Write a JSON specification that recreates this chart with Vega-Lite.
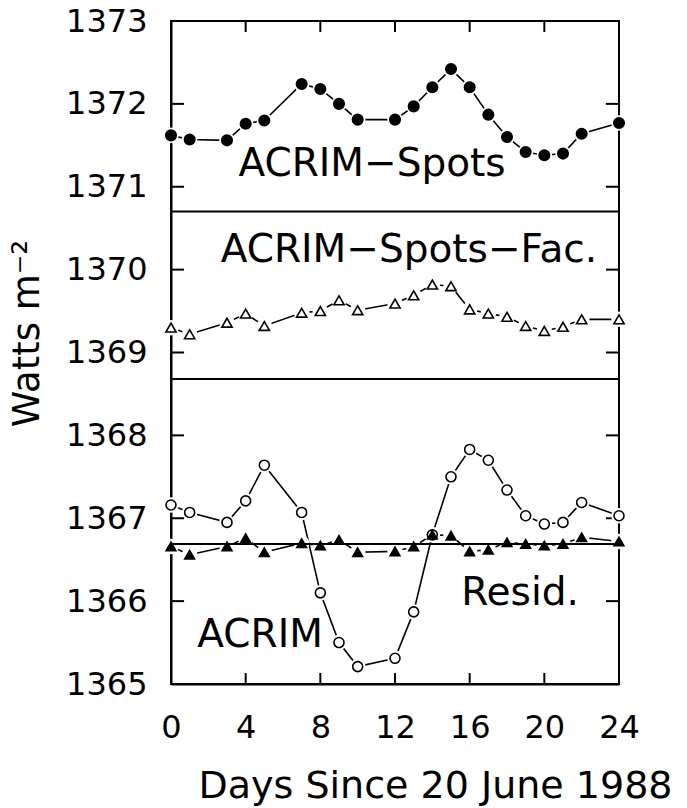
{
  "$schema": "https://vega.github.io/schema/vega-lite/v6.json",
  "autosize": "none",
  "width": 448,
  "height": 663,
  "padding": {"left": 171, "top": 21, "right": 68, "bottom": 124},
  "background": "white",
  "config": {
    "view": {"stroke": "black", "strokeWidth": 2},
    "font": "DejaVu Sans",
    "axis": {
      "grid": false,
      "domainColor": "black",
      "domainWidth": 2,
      "tickColor": "black",
      "tickWidth": 2,
      "labelColor": "black",
      "labelFont": "DejaVu Sans",
      "labelFontSize": 32,
      "titleColor": "black",
      "titleFont": "DejaVu Sans",
      "titleFontWeight": "normal"
    }
  },
  "datasets": {
    "pts": [
      {"day": 0, "value": 1371.62, "series": "spots"},
      {"day": 1, "value": 1371.57, "series": "spots"},
      {"day": 3, "value": 1371.56, "series": "spots"},
      {"day": 4, "value": 1371.76, "series": "spots"},
      {"day": 5, "value": 1371.80, "series": "spots"},
      {"day": 7, "value": 1372.24, "series": "spots"},
      {"day": 8, "value": 1372.18, "series": "spots"},
      {"day": 9, "value": 1372.00, "series": "spots"},
      {"day": 10, "value": 1371.81, "series": "spots"},
      {"day": 12, "value": 1371.81, "series": "spots"},
      {"day": 13, "value": 1371.97, "series": "spots"},
      {"day": 14, "value": 1372.20, "series": "spots"},
      {"day": 15, "value": 1372.42, "series": "spots"},
      {"day": 16, "value": 1372.20, "series": "spots"},
      {"day": 17, "value": 1371.87, "series": "spots"},
      {"day": 18, "value": 1371.60, "series": "spots"},
      {"day": 19, "value": 1371.42, "series": "spots"},
      {"day": 20, "value": 1371.38, "series": "spots"},
      {"day": 21, "value": 1371.40, "series": "spots"},
      {"day": 22, "value": 1371.64, "series": "spots"},
      {"day": 24, "value": 1371.77, "series": "spots"},
      {"day": 0, "value": 1369.30, "series": "fac"},
      {"day": 1, "value": 1369.22, "series": "fac"},
      {"day": 3, "value": 1369.36, "series": "fac"},
      {"day": 4, "value": 1369.47, "series": "fac"},
      {"day": 5, "value": 1369.32, "series": "fac"},
      {"day": 7, "value": 1369.48, "series": "fac"},
      {"day": 8, "value": 1369.50, "series": "fac"},
      {"day": 9, "value": 1369.63, "series": "fac"},
      {"day": 10, "value": 1369.51, "series": "fac"},
      {"day": 12, "value": 1369.59, "series": "fac"},
      {"day": 13, "value": 1369.69, "series": "fac"},
      {"day": 14, "value": 1369.82, "series": "fac"},
      {"day": 15, "value": 1369.80, "series": "fac"},
      {"day": 16, "value": 1369.52, "series": "fac"},
      {"day": 17, "value": 1369.47, "series": "fac"},
      {"day": 18, "value": 1369.43, "series": "fac"},
      {"day": 19, "value": 1369.32, "series": "fac"},
      {"day": 20, "value": 1369.26, "series": "fac"},
      {"day": 21, "value": 1369.31, "series": "fac"},
      {"day": 22, "value": 1369.40, "series": "fac"},
      {"day": 24, "value": 1369.40, "series": "fac"},
      {"day": 0, "value": 1367.16, "series": "acrim"},
      {"day": 1, "value": 1367.07, "series": "acrim"},
      {"day": 3, "value": 1366.95, "series": "acrim"},
      {"day": 4, "value": 1367.21, "series": "acrim"},
      {"day": 5, "value": 1367.64, "series": "acrim"},
      {"day": 7, "value": 1367.07, "series": "acrim"},
      {"day": 8, "value": 1366.10, "series": "acrim"},
      {"day": 9, "value": 1365.50, "series": "acrim"},
      {"day": 10, "value": 1365.21, "series": "acrim"},
      {"day": 12, "value": 1365.31, "series": "acrim"},
      {"day": 13, "value": 1365.87, "series": "acrim"},
      {"day": 14, "value": 1366.80, "series": "acrim"},
      {"day": 15, "value": 1367.50, "series": "acrim"},
      {"day": 16, "value": 1367.83, "series": "acrim"},
      {"day": 17, "value": 1367.70, "series": "acrim"},
      {"day": 18, "value": 1367.34, "series": "acrim"},
      {"day": 19, "value": 1367.03, "series": "acrim"},
      {"day": 20, "value": 1366.93, "series": "acrim"},
      {"day": 21, "value": 1366.95, "series": "acrim"},
      {"day": 22, "value": 1367.19, "series": "acrim"},
      {"day": 24, "value": 1367.03, "series": "acrim"},
      {"day": 0, "value": 1366.66, "series": "resid"},
      {"day": 1, "value": 1366.56, "series": "resid"},
      {"day": 3, "value": 1366.66, "series": "resid"},
      {"day": 4, "value": 1366.76, "series": "resid"},
      {"day": 5, "value": 1366.59, "series": "resid"},
      {"day": 7, "value": 1366.70, "series": "resid"},
      {"day": 8, "value": 1366.67, "series": "resid"},
      {"day": 9, "value": 1366.74, "series": "resid"},
      {"day": 10, "value": 1366.59, "series": "resid"},
      {"day": 12, "value": 1366.60, "series": "resid"},
      {"day": 13, "value": 1366.66, "series": "resid"},
      {"day": 14, "value": 1366.80, "series": "resid"},
      {"day": 15, "value": 1366.79, "series": "resid"},
      {"day": 16, "value": 1366.60, "series": "resid"},
      {"day": 17, "value": 1366.62, "series": "resid"},
      {"day": 18, "value": 1366.71, "series": "resid"},
      {"day": 19, "value": 1366.69, "series": "resid"},
      {"day": 20, "value": 1366.67, "series": "resid"},
      {"day": 21, "value": 1366.69, "series": "resid"},
      {"day": 22, "value": 1366.77, "series": "resid"},
      {"day": 24, "value": 1366.72, "series": "resid"}
    ],
    "rules": [
      {"value": 1370.70},
      {"value": 1368.68},
      {"value": 1366.69}
    ],
    "yticks": [
      {"v": 1366}, {"v": 1367}, {"v": 1368}, {"v": 1369}, {"v": 1370}, {"v": 1371}, {"v": 1372}
    ],
    "xticks": [
      {"d": 4}, {"d": 8}, {"d": 12}, {"d": 16}, {"d": 20}
    ],
    "labels": [
      {"day": 10.77, "value": 1371.13, "text": "ACRIM−Spots"},
      {"day": 12.75, "value": 1370.09, "text": "ACRIM−Spots−Fac."},
      {"day": 18.7, "value": 1365.95, "text": "Resid."},
      {"day": 4.77, "value": 1365.45, "text": "ACRIM"}
    ]
  },
  "resolve": {"axis": {"x": "independent", "y": "independent"}},
  "layer": [
    {
      "data": {"name": "pts"},
      "mark": {"type": "line", "color": "black", "strokeWidth": 1.6},
      "encoding": {
        "x": {
          "field": "day", "type": "quantitative",
          "scale": {"domain": [0, 24], "nice": false, "zero": false},
          "axis": {
            "orient": "bottom", "values": [0, 4, 8, 12, 16, 20, 24],
            "ticks": false, "labelPadding": 28, "labelFlush": false,
            "title": "Days Since 20 June 1988", "titleFontSize": 38,
            "titleX": 264, "titleY": 113, "titleAlign": "center", "titleBaseline": "alphabetic"
          }
        },
        "y": {
          "field": "value", "type": "quantitative",
          "scale": {"domain": [1365, 1373], "nice": false, "zero": false},
          "axis": {
            "orient": "left", "values": [1365, 1366, 1367, 1368, 1369, 1370, 1371, 1372, 1373],
            "format": "d", "ticks": false, "labelPadding": 24, "labelFlush": false,
            "title": "Watts m⁻²", "titleFontSize": 37,
            "titleX": -133, "titleY": 312, "titleAngle": -90, "titleAlign": "center", "titleBaseline": "alphabetic"
          }
        },
        "detail": {"field": "series"}
      }
    },
    {
      "data": {"name": "yticks"},
      "mark": {"type": "rule", "color": "black", "strokeWidth": 2},
      "encoding": {
        "y": {"field": "v", "type": "quantitative", "axis": null},
        "x": {"datum": 0, "type": "quantitative", "axis": null},
        "x2": {"datum": 0.7}
      }
    },
    {
      "data": {"name": "yticks"},
      "mark": {"type": "rule", "color": "black", "strokeWidth": 2},
      "encoding": {
        "y": {"field": "v", "type": "quantitative", "axis": null},
        "x": {"datum": 23.3, "type": "quantitative", "axis": null},
        "x2": {"datum": 24}
      }
    },
    {
      "data": {"name": "xticks"},
      "mark": {"type": "rule", "color": "black", "strokeWidth": 2},
      "encoding": {
        "x": {"field": "d", "type": "quantitative", "axis": null},
        "y": {"datum": 1373, "type": "quantitative", "axis": null},
        "y2": {"datum": 1372.867}
      }
    },
    {
      "data": {"name": "xticks"},
      "mark": {"type": "rule", "color": "black", "strokeWidth": 2},
      "encoding": {
        "x": {"field": "d", "type": "quantitative", "axis": null},
        "y": {"datum": 1365, "type": "quantitative", "axis": null},
        "y2": {"datum": 1365.133}
      }
    },
    {
      "data": {"name": "rules"},
      "mark": {"type": "rule", "color": "black", "strokeWidth": 2},
      "encoding": {
        "y": {"field": "value", "type": "quantitative", "axis": null}
      }
    },
    {
      "data": {"name": "pts"},
      "mark": {"type": "point", "filled": true, "color": "white", "opacity": 1, "shape": "circle", "size": 240},
      "encoding": {
        "x": {"field": "day", "type": "quantitative", "axis": null},
        "y": {"field": "value", "type": "quantitative", "axis": null}
      }
    },
    {
      "data": {"name": "rules"},
      "transform": [{"filter": "datum.value < 1367"}],
      "mark": {"type": "rule", "color": "black", "strokeWidth": 2},
      "encoding": {
        "y": {"field": "value", "type": "quantitative", "axis": null}
      }
    },
    {
      "data": {"name": "pts"},
      "mark": {"type": "point", "filled": true, "stroke": "black", "strokeWidth": 1.6, "opacity": 1},
      "encoding": {
        "x": {"field": "day", "type": "quantitative", "axis": null},
        "y": {"field": "value", "type": "quantitative", "axis": null},
        "shape": {
          "field": "series", "type": "nominal", "legend": null,
          "scale": {"domain": ["spots", "fac", "acrim", "resid"], "range": ["circle", "triangle-up", "circle", "triangle-up"]}
        },
        "fill": {
          "field": "series", "type": "nominal", "legend": null,
          "scale": {"domain": ["spots", "fac", "acrim", "resid"], "range": ["black", "white", "white", "black"]}
        },
        "size": {
          "field": "series", "type": "nominal", "legend": null,
          "scale": {"domain": ["spots", "fac", "acrim", "resid"], "range": [110, 95, 125, 115]}
        }
      }
    },
    {
      "data": {"name": "labels"},
      "mark": {"type": "text", "font": "DejaVu Sans", "fontSize": 39, "color": "black", "align": "center", "baseline": "alphabetic"},
      "encoding": {
        "x": {"field": "day", "type": "quantitative", "axis": null},
        "y": {"field": "value", "type": "quantitative", "axis": null},
        "text": {"field": "text"}
      }
    }
  ]
}
